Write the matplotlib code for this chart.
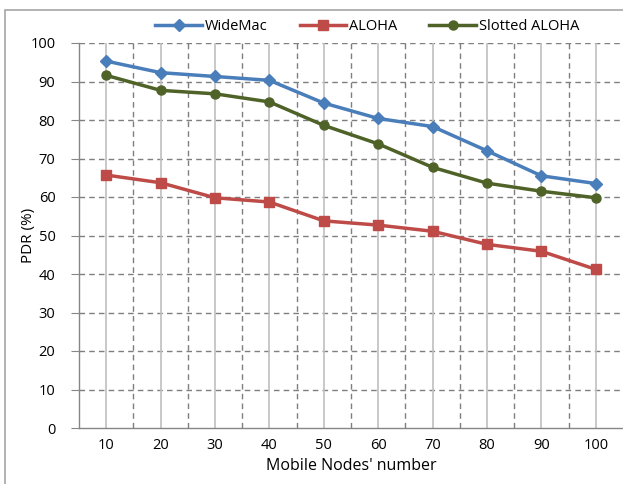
import matplotlib
matplotlib.use("Agg")
import matplotlib.pyplot as plt
from matplotlib.patches import Rectangle

categories = ["10", "20", "30", "40", "50", "60", "70", "80", "90", "100"]
widemac = [95.3, 92.3, 91.3, 90.3, 84.4, 80.4, 78.3, 72.0, 65.5, 63.5]
aloha = [65.7, 63.7, 59.8, 58.7, 53.8, 52.7, 51.1, 47.7, 45.9, 41.2]
slotted = [91.6, 87.7, 86.8, 84.7, 78.6, 73.8, 67.7, 63.6, 61.5, 59.8]
yticks = [0, 10, 20, 30, 40, 50, 60, 70, 80, 90, 100]

plt.rcParams['font.family'] = ['Open Sans', 'DejaVu Sans']

W, H = 623, 484
fig = plt.figure(figsize=(W / 100, H / 100), dpi=100)

# outer chart frame
fig.patches.append(Rectangle((5 / W, -0.1), 1.2, (484 - 10) / H + 0.1,
                             transform=fig.transFigure, fill=False,
                             edgecolor='#a6a6a6', linewidth=1.2))

ax = fig.add_axes([79 / W, (H - 428) / H, (623 - 79) / W, (428 - 43) / H])
x = list(range(len(categories)))

# grid
for yv in yticks[1:]:
    ax.axhline(yv, color='#7f7f7f', linestyle=(0, (4, 3)), linewidth=1.0, zorder=1)
for i in x:
    ax.axvline(i, color='#bfbfbf', linestyle='-', linewidth=1.2, zorder=1)
for i in range(len(categories) - 1):
    ax.axvline(i + 0.5, color='#7f7f7f', linestyle=(0, (4, 3)), linewidth=1.0, zorder=1)

ax.plot(x, widemac, color='#4a7ebb', marker='D', markersize=6, linewidth=2.5,
        label='WideMac', zorder=3)
ax.plot(x, aloha, color='#be4b48', marker='s', markersize=6.5, linewidth=2.5,
        label='ALOHA', zorder=3)
ax.plot(x, slotted, color='#4f6228', marker='o', markersize=6.5, linewidth=2.5,
        label='Slotted ALOHA', zorder=3)

ax.set_xlim(-0.5, len(categories) - 0.5)
ax.set_ylim(0, 100)
ax.set_yticks(yticks)
ax.set_yticklabels([str(v) for v in yticks], fontsize=10.5)
ax.set_xticks(x)
ax.set_xticklabels(categories, fontsize=10.5)
ax.tick_params(axis='x', length=0, pad=7)
ax.tick_params(axis='y', length=6, color='#868686', direction='out', pad=11)

for s in ['top', 'right']:
    ax.spines[s].set_visible(False)
for s in ['left', 'bottom']:
    ax.spines[s].set_color('#868686')
    ax.spines[s].set_linewidth(1.0)

ax.set_ylabel('PDR (%)', fontsize=11)
ax.yaxis.set_label_coords((36 - 79) / (623 - 79), 0.5)
ax.set_xlabel("Mobile Nodes' number", fontsize=11.5, labelpad=4)

ax.legend(loc='lower center', bbox_to_anchor=(0.53, 1.0), ncol=3, frameon=False,
          fontsize=10.5, handlelength=3.2, columnspacing=2.2, handletextpad=0.2,
          borderaxespad=0.2)

fig.savefig('out.png', dpi=100)
